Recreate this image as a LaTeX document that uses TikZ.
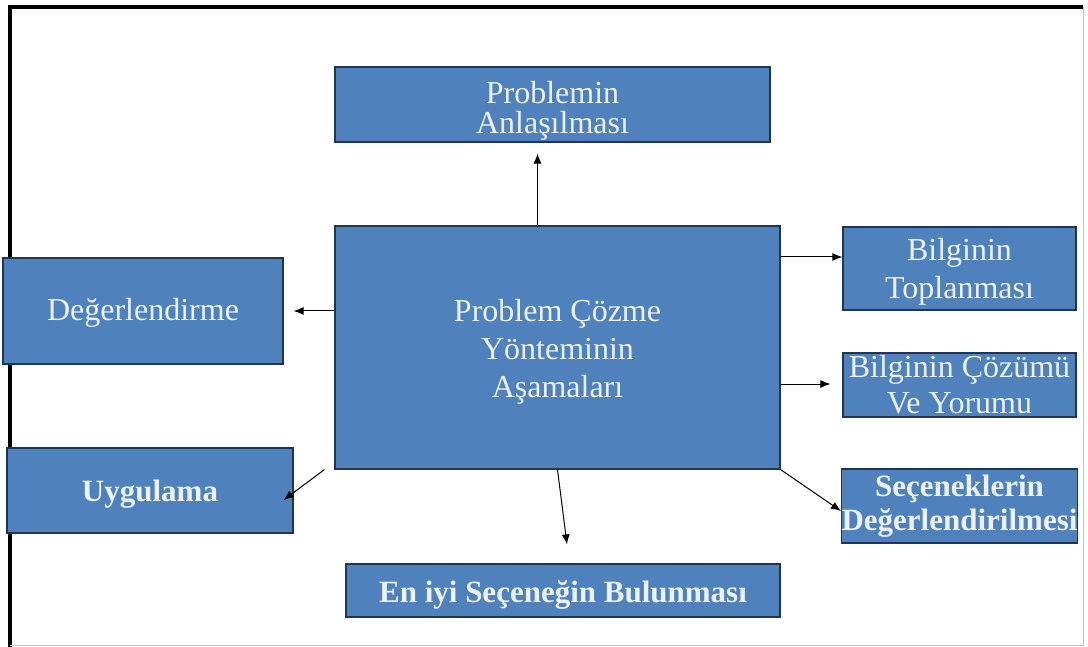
\documentclass[tikz,border=0pt]{standalone}
\usepackage{fontspec}
\setmainfont{Liberation Serif}
\usetikzlibrary{arrows.meta}
\definecolor{kutumavi}{RGB}{79,129,189}
\definecolor{kenar}{RGB}{32,52,84}
\definecolor{yazirengi}{RGB}{236,242,250}
\tikzset{
  kutu/.style={draw=kenar,line width=1.2pt,fill=kutumavi,text=yazirengi,align=center,inner sep=0pt},
  ok/.style={-{Latex[length=10pt,width=8pt]},line width=1pt},
}

\begin{document}
\begin{tikzpicture}[x=1pt,y=-1pt]
    \useasboundingbox (0,0) rectangle (1088,647);
    \begin{scope}[shift={(0,0)}]
      % cerceve
      \draw[line width=4pt] (10,647)--(10,7)--(1083,7);
      \draw[gray!45,line width=0.8pt] (1083,7)--(1083,645.5)--(10,645.5);
      \node[kutu,minimum width=445pt,minimum height=243pt,font=\fontsize{32}{38}\selectfont] (merkez) at (557.5,347.5) {\rule{0pt}{30pt}Problem Çözme\\Yönteminin\\Aşamaları};
      \node[kutu,minimum width=435pt,minimum height=75pt,font=\fontsize{32}{30}\selectfont] (anla) at (552.5,104.5) {\rule{0pt}{35pt}Problemin\\Anlaşılması};
      \node[kutu,minimum width=233pt,minimum height=83pt,font=\fontsize{32}{38}\selectfont] (topla) at (959.5,268.5) {\rule{0pt}{28pt}Bilginin\\Toplanması};
      \node[kutu,minimum width=233pt,minimum height=64pt,font=\fontsize{32}{36}\selectfont] (cozum) at (959.5,385) {Bilginin Çözümü\\Ve Yorumu};
      \node[kutu,minimum width=233pt,minimum height=74pt,font=\bfseries\fontsize{31}{34}\selectfont] (secenek) at (959.5,506) {Seçeneklerin\\Değerlendirilmesi};
      \node[kutu,minimum width=280pt,minimum height=106pt,font=\fontsize{32}{38}\selectfont] (degerl) at (143,311) {\rule{0pt}{26pt}Değerlendirme};
      \node[kutu,minimum width=286pt,minimum height=85pt,font=\bfseries\fontsize{31}{38}\selectfont] (uygula) at (150,490.5) {\rule{0pt}{28pt}Uygulama};
      \node[kutu,minimum width=434pt,minimum height=53pt,font=\bfseries\fontsize{31}{38}\selectfont] (eniyi) at (563,590.5) {\rule{0pt}{30pt}En iyi Seçeneğin Bulunması};
      \draw[ok]([xshift=-20pt]merkez.north)--([xshift=-15pt,yshift=-11pt]anla.south);
      \draw[ok]([yshift=90.5pt]merkez.east)coordinate(a1)--(a1-|topla.west);
      \draw[ok,shorten >=12pt]([yshift=-36.5pt]merkez.east)coordinate(a2)--(a2-|cozum.west);
      \draw[ok](merkez.south east)--([yshift=-5pt]secenek.west);
      \draw[ok](merkez.south)--([xshift=4pt,yshift=19pt]eniyi.north);
      \draw[ok]([xshift=-10pt]merkez.south west)--([xshift=-10pt,yshift=-9.5pt]uygula.east);
      \draw[ok,shorten >=10pt]([yshift=36.5pt]merkez.west)coordinate(a3)--(a3-|degerl.east);
    \end{scope}
  \end{tikzpicture}
\end{document}
